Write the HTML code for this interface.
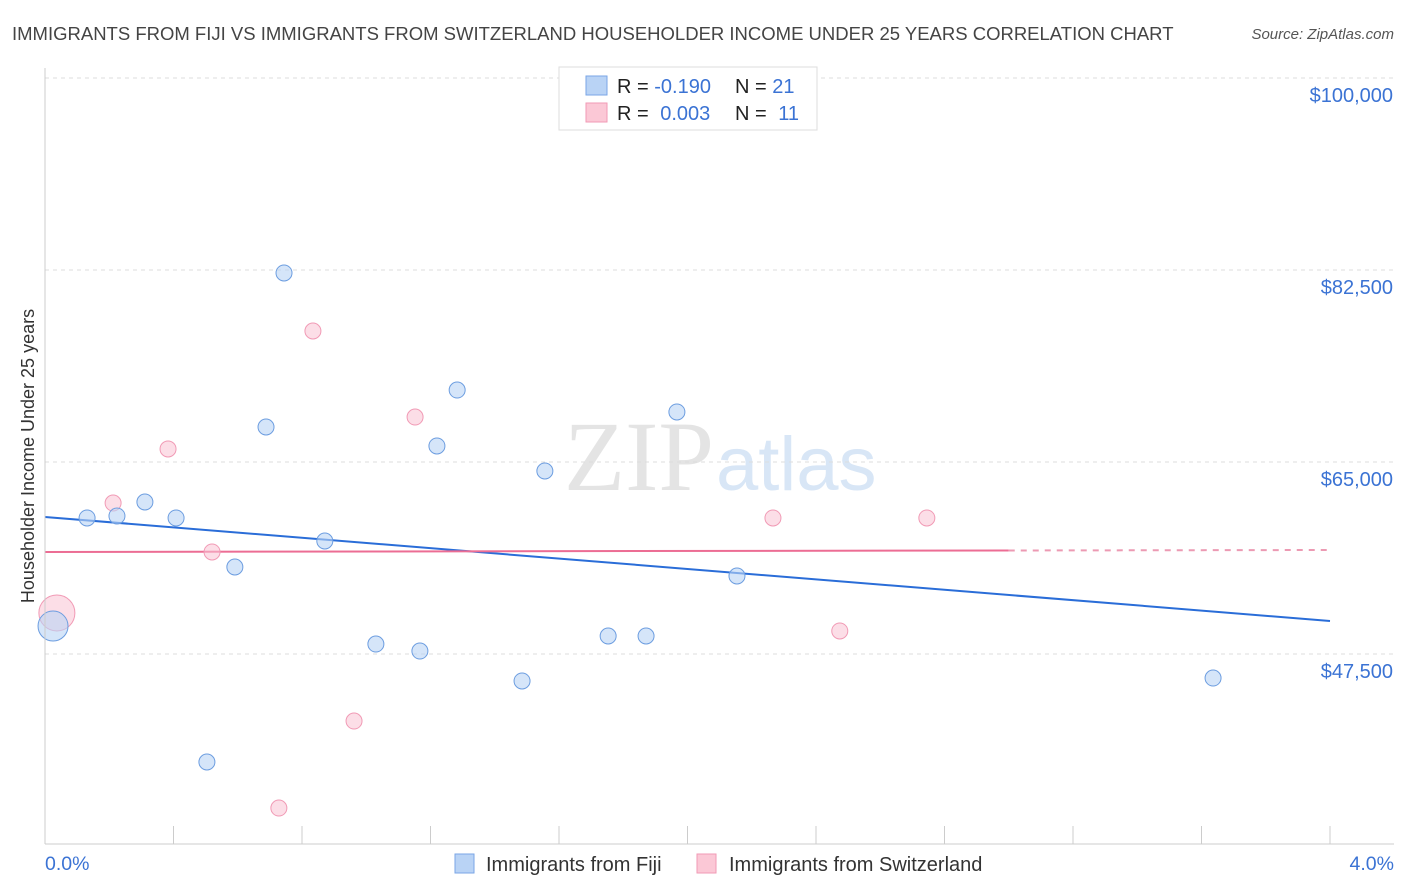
<!DOCTYPE html>
<html><head><meta charset="utf-8"><style>
body{margin:0;background:#fff;font-family:"Liberation Sans",sans-serif;}
svg{display:block}
</style></head><body>
<svg id="chart" width="1406" height="892">
<text x="12" y="40" font-size="18.5" fill="#444">IMMIGRANTS FROM FIJI VS IMMIGRANTS FROM SWITZERLAND HOUSEHOLDER INCOME UNDER 25 YEARS CORRELATION CHART</text>
<text x="1394" y="39" font-size="15" fill="#555" font-style="italic" text-anchor="end">Source: ZipAtlas.com</text>
<text x="714" y="490" font-size="100" fill="#e4e4e4" text-anchor="end" font-family="Liberation Serif">ZIP</text>
<text x="716" y="490" font-size="76" fill="#d8e6f6">atlas</text>
<text transform="translate(34,456) rotate(-90)" font-size="18" fill="#333" text-anchor="middle">Householder Income Under 25 years</text>
<g id="grid"></g><g id="ticks"></g><g id="lines"></g><g id="pts"></g>
<line x1="45" y1="68" x2="45" y2="844" stroke="#ccc"/>
<line x1="45" y1="844" x2="1394" y2="844" stroke="#ccc"/>
<text x="45" y="870" font-size="19.5" fill="#3b73d4">0.0%</text>
<text x="1394" y="870" font-size="19.5" fill="#3b73d4" text-anchor="end">4.0%</text>
<g>
<rect x="559" y="67" width="258" height="63" fill="#fff" stroke="#ddd"/>
<rect x="586" y="76" width="21" height="19" fill="#b9d3f5" stroke="#7aa6e6"/>
<rect x="586" y="103" width="21" height="19" fill="#fbc8d6" stroke="#f19ab5"/>
<text x="617" y="93" font-size="20" fill="#222">R = <tspan fill="#3b73d4">-0.190</tspan></text>
<text x="735" y="93" font-size="20" fill="#222">N = <tspan fill="#3b73d4">21</tspan></text>
<text x="617" y="120" font-size="20" fill="#222">R = <tspan fill="#3b73d4" dx="6">0.003</tspan></text>
<text x="735" y="120" font-size="20" fill="#222">N = <tspan fill="#3b73d4" dx="6">11</tspan></text>
</g>
<g>
<rect x="455" y="854" width="19" height="19" fill="#b9d3f5" stroke="#7aa6e6"/>
<text x="486" y="871" font-size="20" fill="#333">Immigrants from Fiji</text>
<rect x="697" y="854" width="19" height="19" fill="#fbc8d6" stroke="#f19ab5"/>
<text x="729" y="871" font-size="20" fill="#333">Immigrants from Switzerland</text>
</g>
</svg>
<script>
const yTicks=[47500,65000,82500,100000];
const yTickLabels=["$47,500","$65,000","$82,500","$100,000"];
const xTicks=[0,0.4,0.8,1.2,1.6,2.0,2.4,2.8,3.2,3.6,4.0];
const fijiX=[0.025,0.131,0.224,0.311,0.408,0.504,0.591,0.688,0.744,0.871,1.030,1.167,1.220,1.283,1.485,1.556,1.753,1.871,1.967,2.154,3.636];
const fijiY=[50050,59900,60080,61354,59900,37656,55430,68190,82230,57800,48410,47770,66460,71560,45040,64180,49140,49140,69560,54610,45310];
const fijiR=[15,8,8,8,8,8,8,8,8,8,8,8,8,8,8,8,8,8,8,8,8];
const swissX=[0.037,0.212,0.383,0.520,0.728,0.834,0.962,1.152,2.266,2.474,2.745];
const swissY=[51240,61260,66190,56800,33460,76940,41390,69100,59900,49600,59900];
const swissR=[18,8,8,8,8,8,8,8,8,8,8];
const fijiTrend=[59990,50510];
const swissTrend=[56800,56980];
const swissSolidEnd=3.0;
const NS="http://www.w3.org/2000/svg";
const X=v=>45+v/4*1285;
const Y=v=>654-(v-47500)*192/17500;
function mk(t,a,p){const e=document.createElementNS(NS,t);for(const k in a)e.setAttribute(k,a[k]);document.getElementById(p).appendChild(e);return e;}
yTicks.forEach((v,i)=>{
 const g=mk('line',{x1:45,x2:1394,y1:Y(v),y2:Y(v),stroke:'#ddd','stroke-dasharray':'4,4'},'grid');
 
 
 const t=mk('text',{x:1393,y:Y(v)+24,'font-size':20,fill:'#3b73d4','text-anchor':'end'},'grid');
 t.textContent=yTickLabels[i];
 
 
});
xTicks.forEach(v=>{
 const l=mk('line',{x1:X(v),x2:X(v),y1:826,y2:844,stroke:'#ccc'},'ticks');
 
 
});
const tl=(a,b,c,d,col,ds,name)=>{const l=mk('line',{x1:X(a),y1:Y(b),x2:X(c),y2:Y(d),stroke:col,'stroke-width':2},'lines');if(ds)l.setAttribute('stroke-dasharray',ds);
 
 };
tl(0,fijiTrend[0],4,fijiTrend[1],'#2a6dd8',null,'fiji-trend-line');
const sm=swissTrend[0]+(swissTrend[1]-swissTrend[0])*swissSolidEnd/4;
tl(0,swissTrend[0],swissSolidEnd,sm,'#ec6d94',null,'switzerland-trend-line');
tl(swissSolidEnd,sm,4,swissTrend[1],'#ec9ab3','6,6','switzerland-trend-extension');
swissX.forEach((v,i)=>{const c=mk('circle',{cx:X(v),cy:Y(swissY[i]),r:swissR[i],fill:'rgba(250,195,212,0.55)',stroke:'#f19ab5','stroke-width':1},'pts');
 
 });
fijiX.forEach((v,i)=>{const c=mk('circle',{cx:X(v),cy:Y(fijiY[i]),r:fijiR[i],fill:'rgba(185,211,245,0.6)',stroke:'#6c9de0','stroke-width':1},'pts');
 
 });
</script>
</body></html>
